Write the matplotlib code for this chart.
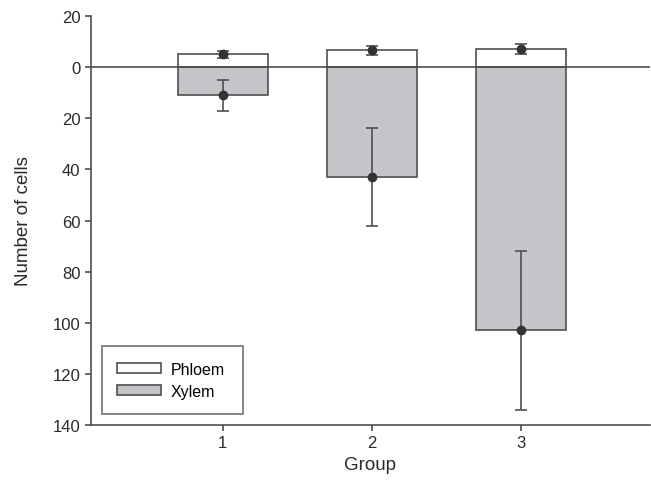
import numpy as np
import matplotlib.pyplot as plt
from matplotlib.ticker import FuncFormatter

plt.rcParams['font.family'] = ['Liberation Sans', 'DejaVu Sans']

groups = [1, 2, 3]
phloem_mean = [5, 6.5, 7]
phloem_err = [1.3, 1.8, 1.9]
xylem_mean = [11, 43, 103]
xylem_err = [6, 19, 31]

edge = '#4f4f4f'
grey = '#c4c5c8'
txt = '#2a2a2a'

fig = plt.figure(figsize=(6.51, 4.81), dpi=100)
ax = fig.add_axes([0.1398, 0.1143, 0.858, 0.8504])

x = np.array(groups)
ax.bar(x, phloem_mean, width=0.6, color='white', edgecolor=edge, lw=1.2,
       label='Phloem', zorder=2)
ax.bar(x, -np.array(xylem_mean), width=0.6, color=grey, edgecolor=edge, lw=1.2,
       label='Xylem', zorder=2)
ax.errorbar(x, phloem_mean, yerr=phloem_err, fmt='o', color='#333333',
            ecolor=edge, ms=6, capsize=4.5, capthick=1.2, elinewidth=1.2, zorder=3)
ax.errorbar(x, -np.array(xylem_mean), yerr=xylem_err, fmt='o', color='#333333',
            ecolor=edge, ms=6, capsize=4.5, capthick=1.2, elinewidth=1.2, zorder=3)
ax.axhline(0, color=edge, lw=1.2, zorder=4)

ax.set_xlim(0.117, 3.86)
ax.set_ylim(-140, 20)
ax.set_xticks(groups)
ax.set_yticks(np.arange(-140, 21, 20))
ax.yaxis.set_major_formatter(FuncFormatter(lambda v, p: f"{abs(int(v))}"))
for s in ('top', 'right'):
    ax.spines[s].set_visible(False)
for s in ('left', 'bottom'):
    ax.spines[s].set_color(edge)
    ax.spines[s].set_linewidth(1.2)
ax.tick_params(direction='out', length=4, width=1.2, color=edge,
               labelsize=12, labelcolor=txt)
ax.set_xlabel('Group', fontsize=13.5, color=txt, labelpad=4)
ax.set_ylabel('Number of cells', fontsize=13.5, color=txt, labelpad=15)

# legend box roughly 141 x 68 px in the original
leg = ax.legend(loc='lower left', bbox_to_anchor=(0.0197, 0.027, 141 / 559, 68 / 409),
                mode='expand', borderaxespad=0, fontsize=11.5,
                frameon=True, fancybox=False, edgecolor=edge,
                handlelength=2.75, handleheight=0.6, handletextpad=0.6,
                borderpad=0.95, labelspacing=0.45)
leg.get_frame().set_linewidth(1.2)

fig.savefig('out.png', dpi=100)
